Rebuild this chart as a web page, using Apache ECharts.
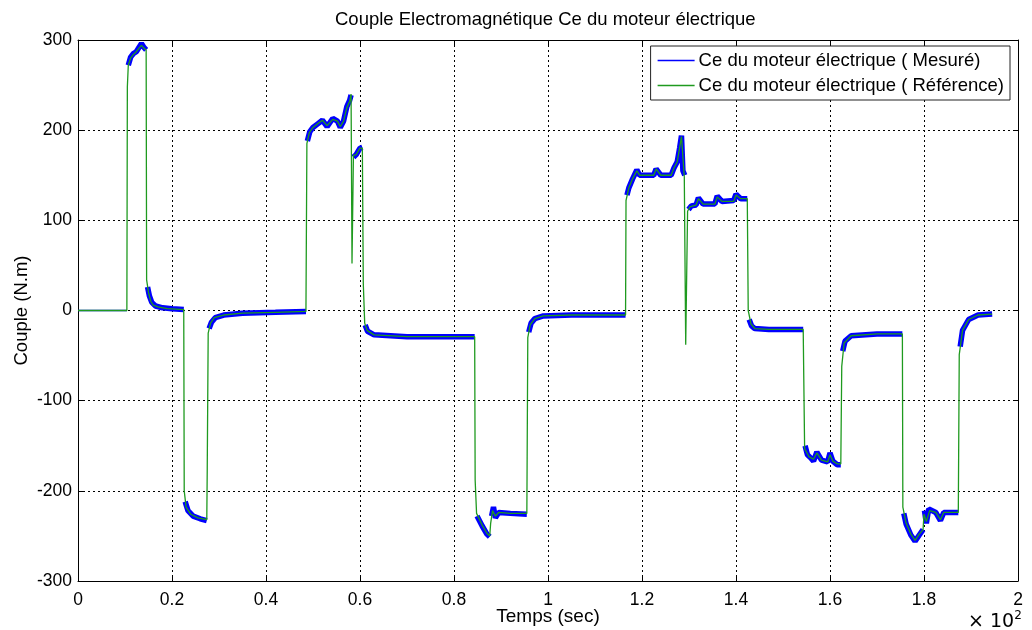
<!DOCTYPE html>
<html>
<head>
<meta charset="utf-8">
<script src="https://cdn.jsdelivr.net/npm/echarts@6/dist/echarts.min.js"></script>
<style>
html,body{margin:0;padding:0;background:#fff;}
#chart{width:1032px;height:630px;}
</style>
</head>
<body>
<div id="chart"></div>
<script>
// ---- Data (time in units of 10^2 s, torque in N.m) ----
const titleText = "Couple Electromagnétique Ce du moteur électrique";
const seriesNames = ["Ce du moteur électrique ( Mesuré)", "Ce du moteur électrique ( Référence)"];

// Reference torque (green)
const refT = [0,0.104,0.105,0.107,0.112,0.118,0.124,0.130,0.135,0.140,0.145,
  0.146,0.150,0.155,0.160,0.170,0.190,0.225,
  0.226,0.230,0.240,0.255,0.274,
  0.275,0.277,0.282,0.290,0.310,0.350,0.420,0.485,
  0.487,0.492,0.500,0.510,0.520,0.530,0.542,0.552,0.558,0.565,0.572,0.578,0.581,
  0.583,0.586,0.592,0.600,0.605,
  0.607,0.610,0.615,0.630,0.700,0.800,0.844,
  0.845,0.848,0.860,0.870,0.876,0.878,0.882,0.888,0.895,0.920,0.955,
  0.957,0.962,0.972,0.990,1.050,1.165,
  1.166,1.172,1.180,1.189,1.195,1.225,1.230,1.240,1.262,1.268,1.275,1.280,1.284,1.290,
  1.293,1.297,1.302,1.315,1.320,1.330,1.355,1.360,1.370,1.395,1.400,1.410,1.424,
  1.426,1.432,1.440,1.470,1.543,
  1.544,1.546,1.555,1.565,1.572,1.582,1.595,1.600,1.606,1.615,1.623,
  1.625,1.630,1.645,1.700,1.754,
  1.755,1.762,1.772,1.781,1.790,1.798,1.800,1.805,1.812,1.825,1.835,1.842,1.873,
  1.875,1.882,1.895,1.915,1.945];
const refV = [0,0,248,272,280,284,287,291,294,291,289,
  34,20,10,6,4,2,1,
  -200,-218,-226,-230,-232,
  -175,-25,-14,-8,-5,-3,-2,-1,
  185,197,203,207,211,205,212,210,204,210,225,232,240,
  52,172,173,180,180,
  30,-14,-22,-27,-29,-29,-29,
  -188,-225,-238,-247,-250,-236,-222,-228,-224,-225,-225,
  -30,-16,-9,-6,-5,-5,
  122,136,146,155,150,150,157,150,150,158,165,180,193,148,
  -38,110,115,117,124,118,118,126,121,121,128,124,124,
  0,-15,-20,-21,-21,
  -66,-153,-162,-165,-158,-166,-168,-160,-167,-170,-170,
  -62,-36,-28,-26,-26,
  -218,-236,-248,-255,-248,-243,-226,-234,-222,-224,-232,-224,-224,
  -49,-22,-10,-5,-4];

// Measured torque (blue) before the first step (no noise)
const mesStartT = [0,0.03,0.031,0.032,0.104];
const mesStartV = [0,0,1.5,0,0];

// Measured torque (blue) plateaus, null = gap at the fast transitions
const mesT = [0.107,0.112,0.118,0.124,0.130,0.135,0.140,0.145,0.1455,
  0.148,0.152,0.157,0.165,0.180,0.200,0.225,0.2255,
  0.228,0.234,0.245,0.260,0.274,0.2745,
  0.279,0.284,0.292,0.310,0.350,0.420,0.485,0.4855,
  0.488,0.493,0.500,0.510,0.520,0.530,0.542,0.552,0.558,0.565,0.572,0.578,0.581,0.5815,
  0.586,0.592,0.600,0.605,0.6055,
  0.611,0.616,0.630,0.700,0.844,0.8445,
  0.849,0.860,0.870,0.876,0.8765,
  0.880,0.884,0.888,0.895,0.920,0.955,0.9555,
  0.959,0.964,0.972,0.990,1.050,1.165,1.1655,
  1.168,1.172,1.180,1.189,1.195,1.225,1.230,1.240,1.262,1.268,1.275,1.280,1.284,1.287,1.291,1.2915,
  1.299,1.305,1.315,1.320,1.330,1.355,1.360,1.370,1.395,1.400,1.410,1.424,1.4245,
  1.428,1.433,1.440,1.470,1.543,1.5435,
  1.547,1.552,1.560,1.565,1.572,1.582,1.595,1.600,1.606,1.615,1.623,1.6235,
  1.627,1.632,1.645,1.700,1.754,1.7545,
  1.757,1.762,1.772,1.781,1.790,1.798,1.7985,
  1.801,1.805,1.810,1.825,1.835,1.842,1.873,1.8735,
  1.877,1.882,1.895,1.915,1.945];
const mesV = [272,281,285,287,292,296,292,289,null,
  26,16,9,5,3,2,1,null,
  -212,-222,-228,-231,-233,null,
  -20,-13,-8,-5,-3,-2,-1,null,
  188,198,203,207,211,204,213,210,203,210,226,233,239,null,
  170,173,180,181,null,
  -16,-23,-27,-29,-29,null,
  -228,-239,-248,-251,null,
  -228,-218,-230,-224,-225,-226,null,
  -24,-14,-9,-6,-5,-5,null,
  128,136,146,156,150,150,157,150,150,158,165,180,194,155,150,null,
  112,116,117,125,118,118,127,121,122,129,124,124,null,
  -10,-17,-20,-21,-21,null,
  -150,-160,-164,-167,-157,-166,-168,-158,-167,-171,-171,null,
  -45,-34,-28,-26,-26,null,
  -225,-237,-249,-256,-249,-243,null,
  -222,-236,-220,-224,-233,-224,-224,null,
  -40,-22,-10,-5,-4];

// Axis ranges / ticks
const xMin = 0, xMax = 2, xStep = 0.2;
const yMin = -300, yMax = 300, yStep = 100;
const xLabel = "Temps (sec)";
const yLabel = "Couple (N.m)";

// ---- Build ----
const zip = (t, v) => t.map((x, i) => [x, v[i] === null ? '-' : v[i]]);
const FONT = "Liberation Sans, Arial, sans-serif";
const chart = echarts.init(document.getElementById('chart'));

const gridLine = {show: true, lineStyle: {color: '#000', type: [2, 3], width: 1}};
const option = {
  backgroundColor: '#fff',
  animation: false,
  title: {
    text: titleText, left: 330, top: 5,
    textStyle: {fontFamily: FONT, fontSize: 18.5, fontWeight: 'normal', color: '#000'}
  },
  grid: {left: 78, right: 14, top: 40, bottom: 49, containLabel: false, outerBoundsMode: 'none'},
  legend: {
    orient: 'vertical', right: 22, top: 46,
    backgroundColor: '#fff', borderColor: '#222', borderWidth: 1,
    padding: [5, 6, 5, 7], itemGap: 6,
    itemWidth: 37, itemHeight: 1.5, icon: 'rect',
    data: seriesNames,
    textStyle: {fontFamily: FONT, fontSize: 18.5, color: '#000', padding: [0, 0, 0, -1]}
  },
  xAxis: [{
    type: 'value', min: xMin, max: xMax, interval: xStep,
    name: xLabel, nameLocation: 'middle', nameGap: 26, nameMoveOverlap: false,
    nameTextStyle: {fontFamily: FONT, fontSize: 19, color: '#000'},
    axisLine: {show: true, onZero: false, lineStyle: {color: '#000', width: 1}},
    axisTick: {show: true, inside: true, length: 5, lineStyle: {color: '#000'}},
    axisLabel: {fontFamily: FONT, fontSize: 17.5, color: '#000', margin: 10},
    splitLine: gridLine
  }, {
    type: 'value', min: xMin, max: xMax, interval: xStep, position: 'top',
    axisLine: {show: true, onZero: false, lineStyle: {color: '#000', width: 1}},
    axisTick: {show: true, inside: true, length: 5, lineStyle: {color: '#000'}},
    axisLabel: {show: false}, splitLine: {show: false}
  }],
  yAxis: [{
    type: 'value', min: yMin, max: yMax, interval: yStep,
    name: yLabel, nameLocation: 'middle', nameGap: 47, nameMoveOverlap: false,
    nameTextStyle: {fontFamily: FONT, fontSize: 18.5, color: '#000'},
    axisLine: {show: true, onZero: false, lineStyle: {color: '#000', width: 1}},
    axisTick: {show: true, inside: true, length: 5, lineStyle: {color: '#000'}},
    axisLabel: {fontFamily: FONT, fontSize: 17.5, color: '#000', margin: 6},
    splitLine: gridLine
  }, {
    type: 'value', min: yMin, max: yMax, interval: yStep, position: 'right',
    axisLine: {show: true, onZero: false, lineStyle: {color: '#000', width: 1}},
    axisTick: {show: true, inside: true, length: 5, lineStyle: {color: '#000'}},
    axisLabel: {show: false}, splitLine: {show: false}
  }],
  series: [{
    name: seriesNames[0], type: 'line', showSymbol: false, symbol: 'none',
    data: zip(mesStartT, mesStartV), color: '#0000ff',
    lineStyle: {color: '#0000ff', width: 1.5}, z: 2
  }, {
    name: seriesNames[0], type: 'line', showSymbol: false, symbol: 'none',
    data: zip(mesT, mesV), connectNulls: false, color: '#0000ff',
    lineStyle: {color: '#0000ff', width: 5.5, join: 'bevel', cap: 'butt'}, z: 2
  }, {
    name: seriesNames[1], type: 'line', showSymbol: false, symbol: 'none',
    data: zip(refT, refV), color: '#1f9a1f',
    lineStyle: {color: '#1f9a1f', width: 1.3}, z: 3
  }],
  graphic: [{
    type: 'text', left: 968, top: 610,
    style: {
      text: '{a|× 10}{b|2}',
      rich: {
        a: {fontFamily: 'DejaVu Sans, sans-serif', fontSize: 19, fill: '#000', verticalAlign: 'bottom'},
        b: {fontFamily: 'DejaVu Sans, sans-serif', fontSize: 12, fill: '#000', verticalAlign: 'top', padding: [0, 0, 10, 0]}
      }
    }
  }]
};
chart.setOption(option);
</script>
</body>
</html>
